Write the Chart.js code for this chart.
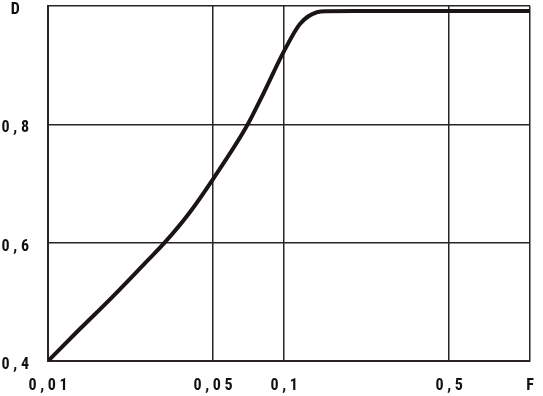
<!DOCTYPE html>
<html>
<head>
<meta charset="utf-8">
<script src="https://cdn.jsdelivr.net/npm/chart.js@4"></script>
<style>
  html, body { margin: 0; padding: 0; background: #fff; }
  #wrap { width: 543px; height: 396px; }
</style>
</head>
<body>
<div id="wrap"><canvas id="c" width="543" height="396"></canvas></div>
<script>
const fValues = [0.01, 0.01344, 0.01862, 0.02576, 0.03131, 0.0396, 0.05016, 0.0695, 0.08172, 0.1003, 0.1169, 0.1376, 0.1517, 0.2, 0.5, 1.1];
const dValues = [0.400, 0.4515, 0.5072, 0.5654, 0.6008, 0.6498, 0.7084, 0.797, 0.852, 0.9249, 0.970, 0.9895, 0.9912, 0.9915, 0.9915, 0.9915];

const xTicks = [0.01, 0.05, 0.1, 0.5, 1.1];
const xTickLabels = ["0 , 0 1", "0 , 0 5", "0 , 1", "0 , 5", "F"];
const yTicks = [0.4, 0.6, 0.8, 1.0];
const yTickLabels = ["0 , 4", "0 , 6", "0 , 8", "D"];

const FONT = "'Roboto Condensed', 'DejaVu Sans Condensed', sans-serif";

const points = fValues.map((f, i) => ({ x: f, y: dValues[i] }));

new Chart(document.getElementById("c"), {
  type: "line",
  data: {
    datasets: [{
      data: points,
      borderColor: "#1a1414",
      borderWidth: 4,
      pointRadius: 0,
      fill: false,
      cubicInterpolationMode: "monotone"
    }]
  },
  options: {
    responsive: false,
    animation: false,
    layout: { padding: { top: 6, right: 13, left: 0, bottom: 0 } },
    plugins: { legend: { display: false }, tooltip: { enabled: false } },
    scales: {
      x: {
        type: "logarithmic",
        min: 0.01,
        max: 1.1,
        afterBuildTicks: axis => { axis.ticks = xTicks.map(v => ({ value: v })); },
        afterFit: axis => {
          axis.height = 35;
          axis.paddingLeft = 0;
          axis.paddingRight = 0;
        },
        ticks: {
          autoSkip: false,
          maxRotation: 0,
          padding: 15,
          color: "#111",
          font: { family: FONT, size: 16, weight: "bold" },
          callback: (v, i) => xTickLabels[i]
        },
        grid: { color: "#2a2424", lineWidth: 1.5, drawTicks: false },
        border: { color: "#2a2424", width: 2 }
      },
      y: {
        min: 0.4,
        max: 1.0,
        afterBuildTicks: axis => { axis.ticks = yTicks.map(v => ({ value: v })); },
        afterFit: axis => {
          axis.width = 48;
          axis.paddingTop = 0;
          axis.paddingBottom = 0;
        },
        ticks: {
          crossAlign: "center",
          padding: 19,
          labelOffset: 4,
          color: "#111",
          font: { family: FONT, size: 16, weight: "bold" },
          callback: (v, i) => yTickLabels[i]
        },
        grid: { color: "#2a2424", lineWidth: 1.5, drawTicks: false },
        border: { color: "#2a2424", width: 2 }
      }
    }
  }
});
</script>
</body>
</html>
